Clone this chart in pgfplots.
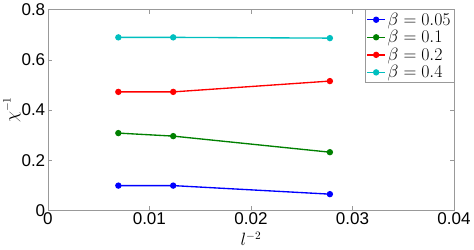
\documentclass[border=0pt]{standalone}
\usepackage{pgfplots}
\pgfplotsset{compat=1.18}
\usepackage{fontspec}
\setmainfont{Liberation Sans}
\begin{document}
\begin{tikzpicture}
\begin{axis}[
  scale only axis,
  width=392bp, height=194bp,
  xmin=0, xmax=0.04, ymin=0, ymax=0.8,
  xtick={0,0.01,0.02,0.03,0.04},
  ytick={0,0.2,0.4,0.6,0.8},
  xticklabels={0,0.01,0.02,0.03,0.04},
  yticklabels={0,0.2,0.4,0.6,0.8},
  scaled x ticks=false,
  tick label style={font=\fontsize{16.5}{18}\selectfont},
  xticklabel style={yshift=1bp},
  yticklabel style={xshift=1bp},
  axis line style={gray!80},
  tick style={gray!80, major tick length=4bp},
  tick align=inside,
  xlabel={$l^{-2}$}, ylabel={$\chi^{-1}$},
  label style={font=\fontsize{16}{18}\selectfont},
  xlabel style={yshift=0bp},
  ylabel style={yshift=-6bp},
  legend style={at={(1,1)}, anchor=north east, draw=gray!80, font=\fontsize{17}{18}\selectfont, inner sep=1pt, row sep=-0.5pt},
  legend cell align=left,
  every axis plot/.append style={line width=1.3pt, mark=*, mark size=2.4pt},
]
\addplot[blue, mark options={fill=blue}] coordinates {(0.006944,0.099) (0.012346,0.099) (0.027778,0.065)};
\addlegendentry{$\beta=0.05$}
\addplot[green!50!black, mark options={fill=green!50!black}] coordinates {(0.006944,0.308) (0.012346,0.296) (0.027778,0.232)};
\addlegendentry{$\beta=0.1$}
\addplot[red, mark options={fill=red}] coordinates {(0.006944,0.472) (0.012346,0.472) (0.027778,0.515)};
\addlegendentry{$\beta=0.2$}
\addplot[color={rgb,255:red,0;green,191;blue,191}, mark options={fill={rgb,255:red,0;green,191;blue,191}}] coordinates {(0.006944,0.689) (0.012346,0.689) (0.027778,0.686)};
\addlegendentry{$\beta=0.4$}
\end{axis}
\end{tikzpicture}
\end{document}
